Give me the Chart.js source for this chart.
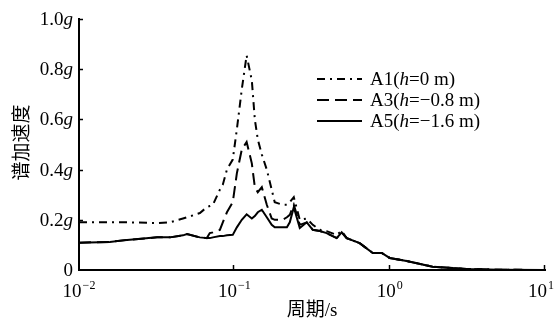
<!DOCTYPE html>
<html>
<head>
<meta charset="utf-8">
<script src="https://cdn.jsdelivr.net/npm/chart.js@4"></script>
<style>
  html, body { margin: 0; padding: 0; background: #fff; }
  #wrap { width: 555px; height: 322px; }
</style>
</head>
<body>
<div id="wrap"><canvas id="myChart"></canvas></div>
<script>
// periods (s) shared by the three curves
const periods = [0.01, 0.0158, 0.0204, 0.0318, 0.0385, 0.0467, 0.0496, 0.060, 0.0665, 0.0695,
  0.0728, 0.0807, 0.0843, 0.0896, 0.0977, 0.1038, 0.1117, 0.120, 0.1296, 0.1355,
  0.1416, 0.1503, 0.1618, 0.174, 0.182, 0.204, 0.218, 0.2275, 0.2415, 0.2638,
  0.2926, 0.320, 0.355, 0.393, 0.456, 0.491, 0.529, 0.641, 0.778, 0.889,
  1.0, 1.285, 1.89, 3.13, 5.1, 10];

// spectral acceleration (g)
const a1Values = [0.19, 0.19, 0.19, 0.187, 0.19, 0.205, 0.21, 0.227, 0.25, 0.255,
  0.26, 0.32, 0.34, 0.40, 0.44, 0.56, 0.72, 0.855, 0.755, 0.60,
  0.52, 0.46, 0.40, 0.32, 0.27, 0.26, 0.26, 0.27, 0.29, 0.20,
  0.205, 0.18, 0.16, 0.155, 0.14, 0.155, 0.127, 0.107, 0.068, 0.068,
  0.048, 0.036, 0.013, 0.004, 0.001, 0.0];
const a3Values = [0.109, 0.112, 0.12, 0.13, 0.13, 0.138, 0.143, 0.13, 0.127, 0.147,
  0.15, 0.16, 0.19, 0.23, 0.27, 0.385, 0.48, 0.51, 0.425, 0.33,
  0.31, 0.33, 0.26, 0.205, 0.2, 0.20, 0.21, 0.22, 0.26, 0.18,
  0.19, 0.16, 0.155, 0.147, 0.127, 0.15, 0.127, 0.107, 0.068, 0.068,
  0.048, 0.036, 0.013, 0.004, 0.001, 0.0];
const a5Values = [0.109, 0.112, 0.12, 0.13, 0.13, 0.138, 0.143, 0.13, 0.127, 0.127,
  0.13, 0.135, 0.135, 0.138, 0.14, 0.17, 0.20, 0.222, 0.205, 0.215,
  0.23, 0.24, 0.21, 0.18, 0.17, 0.17, 0.17, 0.19, 0.25, 0.167,
  0.19, 0.16, 0.155, 0.147, 0.127, 0.15, 0.127, 0.107, 0.068, 0.068,
  0.048, 0.036, 0.013, 0.004, 0.001, 0.0];

const seriesLabels = ['A1(h=0 m)', 'A3(h=\u22120.8 m)', 'A5(h=\u22121.6 m)'];
const yTicks = [0, 0.2, 0.4, 0.6, 0.8, 1.0];
const xTicks = [0.01, 0.1, 1, 10];
const xTickExponents = ['\u22122', '\u22121', '0', '1'];
const xTitle = '周期/s';
const yTitle = '谱加速度';

const serif = '"Liberation Serif", "Times New Roman", "Noto Sans CJK SC", serif';

function toPoints(values) {
    return periods.map((p, i) => ({ x: p, y: values[i] }));
}

// draws text parts [text, italic] one after another
function drawParts(ctx, parts, x, y, size, align) {
    const widths = parts.map(p => {
        ctx.font = (p[1] ? 'italic ' : '') + size + 'px ' + serif;
        return ctx.measureText(p[0]).width;
    });
    const total = widths.reduce((a, b) => a + b, 0);
    let cx = align === 'right' ? x - total : (align === 'center' ? x - total / 2 : x);
    ctx.textAlign = 'left';
    parts.forEach((p, i) => {
        ctx.font = (p[1] ? 'italic ' : '') + size + 'px ' + serif;
        ctx.fillText(p[0], cx, y);
        cx += widths[i];
    });
}

const decorations = {
    id: 'decorations',
    afterDraw(chart) {
        const ctx = chart.ctx;
        const xs = chart.scales.x;
        const ys = chart.scales.y;
        const area = chart.chartArea;
        ctx.save();
        ctx.fillStyle = '#000';
        ctx.strokeStyle = '#000';
        ctx.lineWidth = 1.5;

        // inward tick marks
        yTicks.forEach(v => {
            if (v === 0) return;
            const py = Math.round(ys.getPixelForValue(v)) + 0.5;
            ctx.beginPath();
            ctx.moveTo(area.left, py);
            ctx.lineTo(area.left + 4, py);
            ctx.stroke();
        });
        xTicks.forEach(v => {
            if (v === xTicks[0]) return;
            const px = Math.round(xs.getPixelForValue(v)) - 0.5;
            ctx.beginPath();
            ctx.moveTo(px, area.bottom);
            ctx.lineTo(px, area.bottom - 5);
            ctx.stroke();
        });

        // y tick labels with italic g
        ctx.textBaseline = 'middle';
        yTicks.forEach(v => {
            const py = ys.getPixelForValue(v);
            const parts = v === 0 ? [['0', false]] : [[v.toFixed(1), false], ['g', true]];
            drawParts(ctx, parts, area.left - 6, py + 1, 19, 'right');
        });

        // x tick labels 10^n
        ctx.textBaseline = 'alphabetic';
        xTicks.forEach((v, i) => {
            const px = xs.getPixelForValue(v);
            ctx.font = '19px ' + serif;
            const w1 = ctx.measureText('10').width;
            ctx.font = '12px ' + serif;
            const w2 = ctx.measureText(xTickExponents[i]).width;
            let start = px - (w1 + w2 + 1) / 2;
            start = Math.min(start, chart.width - 1 - (w1 + w2 + 1));
            ctx.font = '19px ' + serif;
            ctx.textAlign = 'left';
            ctx.fillText('10', start, area.bottom + 27);
            ctx.font = '12px ' + serif;
            ctx.fillText(xTickExponents[i], start + w1 + 1, area.bottom + 19);
        });

        // axis titles
        ctx.textAlign = 'center';
        ctx.textBaseline = 'middle';
        ctx.font = '19px ' + serif;
        ctx.fillText(xTitle, (area.left + area.right) / 2, 311);
        ctx.save();
        ctx.translate(21, (area.top + area.bottom) / 2 - 2);
        ctx.rotate(-Math.PI / 2);
        ctx.font = '19px "Noto Sans CJK SC", sans-serif';
        ctx.fillText(yTitle, 0, 0);
        ctx.restore();

        // legend
        const rows = [79, 100, 121];
        chart.data.datasets.forEach((ds, i) => {
            const y = rows[i];
            ctx.lineWidth = 2;
            ctx.setLineDash(ds.borderDash || []);
            ctx.beginPath();
            ctx.moveTo(317, y);
            ctx.lineTo(362, y);
            ctx.stroke();
            ctx.setLineDash([]);
            const label = ds.label;
            const k = label.indexOf('h');
            const parts = [[label.slice(0, k), false], ['h', true], [label.slice(k + 1), false]];
            ctx.textBaseline = 'middle';
            drawParts(ctx, parts, 370, y + 1, 19, 'left');
        });
        ctx.restore();
    }
};

document.addEventListener('DOMContentLoaded', () => {
    const ctx = document.getElementById('myChart');
    const lineStyle = { borderColor: '#000', borderWidth: 2, pointRadius: 0, tension: 0, fill: false };
    new Chart(ctx, {
        type: 'line',
        data: {
            datasets: [
                Object.assign({ label: seriesLabels[0], data: toPoints(a1Values), borderDash: [8, 5, 2, 5], order: 2 }, lineStyle),
                Object.assign({ label: seriesLabels[1], data: toPoints(a3Values), borderDash: [12, 6], order: 1 }, lineStyle),
                Object.assign({ label: seriesLabels[2], data: toPoints(a5Values), borderDash: [], order: 0 }, lineStyle)
            ]
        },
        options: {
            responsive: true,
            maintainAspectRatio: false,
            animation: false,
            devicePixelRatio: 1,
            layout: { padding: { left: 79, right: 10, top: 19, bottom: 52 } },
            plugins: { legend: { display: false }, tooltip: { enabled: false } },
            scales: {
                x: {
                    type: 'logarithmic',
                    min: 0.01,
                    max: 10,
                    ticks: { display: false },
                    grid: { display: true, drawOnChartArea: false, drawTicks: false },
                    border: { display: true, color: '#000', width: 2 }
                },
                y: {
                    min: 0,
                    max: 1,
                    ticks: { display: false, stepSize: 0.2 },
                    grid: { display: true, drawOnChartArea: false, drawTicks: false },
                    border: { display: true, color: '#000', width: 2 }
                }
            }
        },
        plugins: [decorations]
    });
});
</script>
</body>
</html>
